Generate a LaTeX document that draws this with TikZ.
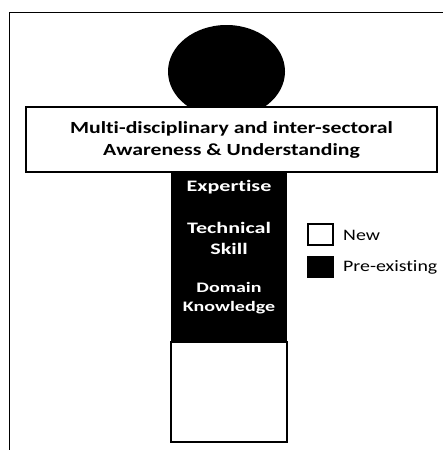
\documentclass[tikz,border=0pt]{standalone}
\usepackage{fontspec}
\setmainfont{Carlito}[Ligatures=NoCommon]
\newfontfamily\bandfont{Carlito}[Ligatures=NoCommon, FakeStretch=1.28]
\newfontfamily\colfont{Carlito}[Ligatures=NoCommon, FakeStretch=1.38]
\newfontfamily\keyfont{Carlito}[Ligatures=NoCommon, FakeStretch=1.24]
\usetikzlibrary{shapes.geometric}

\tikzset{
  band/.style={draw, line width=1.2pt, fill=white, minimum width=411pt, minimum height=65pt, inner sep=0pt, align=center, font=\bandfont\fontsize{17}{22}\selectfont\bfseries},
  collabel/.style={text=white, align=center, font=\colfont\fontsize{16}{21}\selectfont\bfseries},
  legbox/.style={draw, line width=1.2pt, minimum width=25pt, minimum height=21pt, inner sep=0pt},
  legtext/.style={anchor=west, inner sep=0pt, font=\keyfont\fontsize{16}{18}\selectfont}
}

\begin{document}
\begin{tikzpicture}[x=1pt, y=-1pt]
  \useasboundingbox (0,0) rectangle (443,450);
  % frame
  \draw[line width=1pt] (9,450) -- (9,12) -- (443,12);
  % head
  \node[ellipse, fill=black, minimum width=117pt, minimum height=93pt, inner sep=0pt] (head) at (226.5,71.5) {};
  \node[band] (band) at (231.5,139.5) {Multi-disciplinary and inter-sectoral\\Awareness \& Understanding};
  % stem
  \node[fill=black, minimum width=116pt, minimum height=170pt, inner sep=0pt] (old) at (229,257) {};
  \node[draw, line width=1.5pt, fill=white, minimum width=116pt, minimum height=100pt, inner sep=0pt] (new) at (229,392) {};
  \node[collabel] (exp) at (229,187) {Expertise};
  \node[collabel] (tech) at (229,238) {Technical\\Skill};
  \node[collabel, font=\colfont\fontsize{14.5}{19}\selectfont\bfseries] (dom) at (229,298) {Domain\\Knowledge};
  % legend
  \node[legbox, fill=white] (keynew) at (320.5,234.5) {};
  \node[legbox, fill=black] (keyold) at (320.5,267) {};
  \node[legtext] (txtnew) at (343,235) {New};
  \node[legtext] (txtold) at (343,267) {Pre-existing};
\end{tikzpicture}
\end{document}
